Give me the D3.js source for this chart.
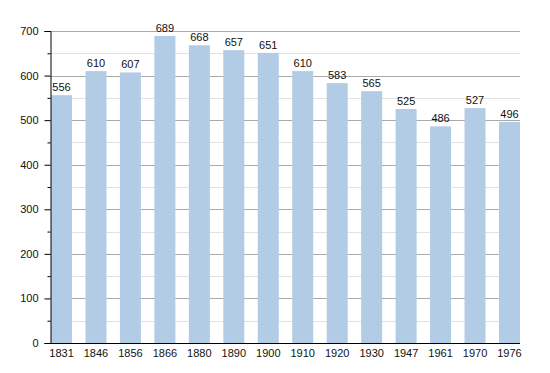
<!DOCTYPE html>
<html lang="en">
<head>
<meta charset="UTF-8">
<title>Population</title>
<script src="https://cdn.jsdelivr.net/npm/d3@7"></script>
<style>
    body { margin: 0; background: #fff; }
    text { font-family: "Liberation Sans", Arial, sans-serif; }
</style>
</head>
<body>
<div id="chart"></div>
<script>
    // data
    var years = ["1831", "1846", "1856", "1866", "1880", "1890", "1900", "1910", "1920", "1930", "1947", "1961", "1970", "1976"];
    var population = [556, 610, 607, 689, 668, 657, 651, 610, 583, 565, 525, 486, 527, 496];
    var yTicks = [0, 100, 200, 300, 400, 500, 600, 700];
    var yMinor = [50, 150, 250, 350, 450, 550, 650];

    // plot area
    var W = 550, H = 373;
    var plotLeft = 50, plotRight = 520, plotTop = 31, plotBottom = 343;

    var svg = d3.select("#chart").append("svg")
        .attr("width", W)
        .attr("height", H);

    var x = d3.scaleBand()
        .domain(years)
        .range([51, plotRight])
        .paddingInner(0.39)
        .paddingOuter(0);

    var y = d3.scaleLinear()
        .domain([0, 700])
        .range([plotBottom, plotTop]);

    // grid lines
    svg.append("g").selectAll("line").data(yMinor).enter().append("line")
        .attr("x1", plotLeft).attr("x2", plotRight)
        .attr("y1", d => Math.round(y(d)) + 0.5).attr("y2", d => Math.round(y(d)) + 0.5)
        .attr("stroke", "#e2e2e2").attr("stroke-width", 1);
    svg.append("g").selectAll("line").data(yTicks.slice(1)).enter().append("line")
        .attr("x1", plotLeft).attr("x2", plotRight)
        .attr("y1", d => Math.round(y(d)) + 0.5).attr("y2", d => Math.round(y(d)) + 0.5)
        .attr("stroke", "#aaaaaa").attr("stroke-width", 1);

    // bars
    svg.append("g").selectAll("rect").data(population).enter().append("rect")
        .attr("x", (d, i) => x(years[i]))
        .attr("width", x.bandwidth())
        .attr("y", d => y(d))
        .attr("height", d => y(0) - y(d))
        .attr("fill", "#b3cce5");

    // value labels
    svg.append("g").selectAll("text").data(population).enter().append("text")
        .attr("x", (d, i) => x(years[i]) + x.bandwidth() / 2)
        .attr("y", d => y(d) - 4)
        .attr("text-anchor", "middle")
        .attr("font-size", "11px")
        .attr("fill", "#111")
        .text(d => d);

    // y axis
    var yAxis = d3.axisLeft(y).tickValues(yTicks).tickSize(6).tickPadding(6);
    var gy = svg.append("g")
        .attr("transform", "translate(" + (plotLeft + 0.5) + ",0)")
        .call(yAxis);
    gy.select(".domain").attr("stroke", "#000");
    gy.selectAll(".tick line").attr("stroke", "#000");
    gy.selectAll("text").attr("font-size", "11px").attr("fill", "#111").attr("font-family", "Liberation Sans, Arial, sans-serif");

    var yAxisMinor = d3.axisLeft(y).tickValues(yMinor).tickSize(3).tickFormat("");
    var gym = svg.append("g")
        .attr("transform", "translate(" + (plotLeft + 0.5) + ",0)")
        .call(yAxisMinor);
    gym.select(".domain").remove();
    gym.selectAll(".tick line").attr("stroke", "#000");

    // x axis
    var xAxis = d3.axisBottom(x).tickSize(0).tickPadding(6);
    var gx = svg.append("g")
        .attr("transform", "translate(0," + (plotBottom + 0.5) + ")")
        .call(xAxis);
    gx.select(".domain").attr("stroke", "#000").attr("d", "M" + plotLeft + ",0H" + plotRight);
    gx.selectAll("text").attr("font-size", "11px").attr("fill", "#111").attr("font-family", "Liberation Sans, Arial, sans-serif");
</script>
</body>
</html>
